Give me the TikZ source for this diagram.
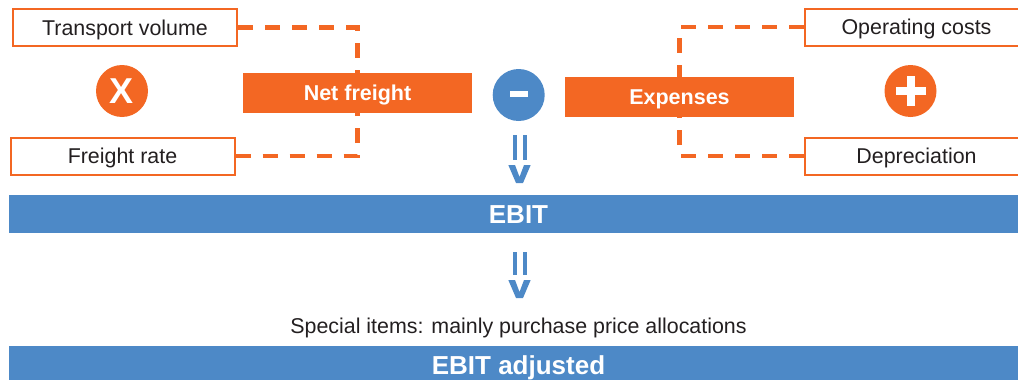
\documentclass[tikz,border=0pt]{standalone}
\usepackage{fontspec}
\setmainfont{Liberation Sans}
\definecolor{dorange}{RGB}{243,103,35}
\definecolor{dblue}{RGB}{77,137,199}
\definecolor{dtext}{RGB}{35,31,32}
\begin{document}
\begin{tikzpicture}[x=1pt,y=-1pt,
  inbox/.style={draw=dorange, line width=2pt, fill=white, minimum width=224pt, minimum height=37pt, inner sep=0pt, text=dtext, font=\fontsize{21.4}{24}\selectfont, text height=15.3pt, text depth=0pt},
  obox/.style={fill=dorange, minimum width=229pt, minimum height=40pt, inner sep=0pt, text=white, font=\bfseries\fontsize{21.5}{24}\selectfont, text height=15.4pt, text depth=0pt},
  opcirc/.style={circle, fill=dorange, minimum size=52pt, inner sep=0pt},
  dashlink/.style={draw=dorange, line width=4.5pt, dash pattern=on 15pt off 12pt},
  bluebar/.style={fill=dblue, minimum width=1019pt, minimum height=38pt, inner sep=0pt, text=white, font=\bfseries\fontsize{26}{30}\selectfont, text height=18.6pt, text depth=0pt},
  arrowpart/.style={fill=dblue}
]
\useasboundingbox (0,0) rectangle (1018,380);
\clip (0,0) rectangle (1018,380);

% boxes
\node[obox] (nf) at (357.5,93) {Net freight};
\node[obox] (ex) at (679.5,97) {Expenses};
\node[inbox] (tv) at (125,27.5) {Transport volume};
\node[inbox] (fr) at (122.5,156) {Freight rate};
\node[inbox] (oc) at (916.5,27) {Operating costs};
\node[inbox] (dp) at (916.5,156) {Depreciation};

% dashed connectors
\draw[dashlink] (tv.east) -| (nf.north);
\draw[dashlink] (fr.east) -| (nf.south);
\draw[dashlink] (oc.west) -| (ex.north);
\draw[dashlink] (dp.west) -| (ex.south);

% operator circles
\node[opcirc, text=white, font=\bfseries\fontsize{36}{36}\selectfont, text height=25.8pt, text depth=0pt] (times) at (122,91) {X};
\node[opcirc, fill=dblue] (minus) at (518.7,95) {};
\fill[white] (509.8,90.7) rectangle (527.6,97.3);
\node[opcirc] (plus) at (910.5,91) {};
\fill[white] (906.5,76) rectangle (914.5,106);
\fill[white] (895.5,87) rectangle (925.5,95);

% bars
\node[bluebar] (ebit) at (518.5,214) {EBIT};
\node[bluebar] (ebitadj) at (518.5,365) {EBIT adjusted};

\node[text=dtext, font=\fontsize{21.4}{24}\selectfont, text height=15.3pt, text depth=0pt, inner sep=0pt] (special) at (518.5,326) {Special items: mainly purchase price allocations};

% double-line arrows
\foreach \yy/\len in {135/25,252/23}{
  \begin{scope}[shift={(0,\yy)}]
    \fill[arrowpart] (513,0) rectangle (517,\len);
    \fill[arrowpart] (523,0) rectangle (527,\len);
    \fill[arrowpart] (508.3,\len+5) -- (515,\len+5) -- (519.5,\len+17) -- (524,\len+5) -- (530.7,\len+5) -- (523,\len+23) -- (516,\len+23) -- cycle;
  \end{scope}
}
\end{tikzpicture}
\end{document}
